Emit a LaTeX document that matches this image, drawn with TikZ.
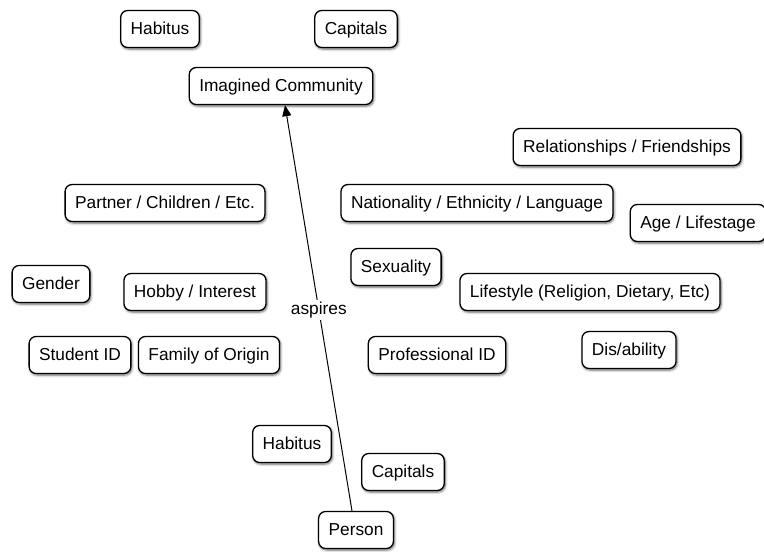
\documentclass[tikz,border=0pt]{standalone}
\usepackage{fontspec}
\setmainfont{Liberation Sans}
\usetikzlibrary{shadows.blur,arrows.meta}
\begin{document}
\begin{tikzpicture}[x=1pt,y=-1pt,
  idbox/.style={draw=black,line width=1.3pt,rounded corners=7pt,fill=white,
    font=\fontsize{17.3}{19}\selectfont,inner xsep=10pt,minimum height=37pt,
    text height=14pt,text depth=2.5pt,
    blur shadow={shadow xshift=1pt,shadow yshift=-1.5pt,shadow blur steps=6,shadow blur radius=2.5pt,shadow opacity=60}},
  link/.style={line width=1pt,-{Triangle[length=11pt,width=9pt]}}]
\useasboundingbox (0,0) rectangle (764,552);
\node[idbox] (habT) at (160,29) {Habitus};
\node[idbox] (capT) at (356,29) {Capitals};
\node[idbox] (imag) at (281,86) {Imagined Community};
\node[idbox] (rel) at (627,147) {Relationships / Friendships};
\node[idbox] (partner) at (165,203) {Partner / Children / Etc.};
\node[idbox] (nat) at (477,203) {Nationality / Ethnicity / Language};
\node[idbox] (age) at (698,223) {Age / Lifestage};
\node[idbox] (sex) at (396,267) {Sexuality};
\node[idbox] (gender) at (51,284) {Gender};
\node[idbox] (hobby) at (195,292) {Hobby / Interest};
\node[idbox] (life) at (590,292) {Lifestyle (Religion, Dietary, Etc)};
\node[idbox] (student) at (80,355) {Student ID};
\node[idbox] (family) at (209,355) {Family of Origin};
\node[idbox] (prof) at (437,355) {Professional ID};
\node[idbox] (dis) at (629,350) {Dis/ability};
\node[idbox] (habB) at (292,444) {Habitus};
\node[idbox] (capB) at (403,472) {Capitals};
\node[idbox] (person) at (356,530) {Person};
\draw[link] (person.north) ++(-4,0) coordinate (pstart) (pstart) -- (imag.south -| 285,0)
  node[pos=0.495,fill=white,inner sep=2pt,font=\fontsize{17.3}{19}\selectfont] (asp) {aspires};
\end{tikzpicture}
\end{document}
